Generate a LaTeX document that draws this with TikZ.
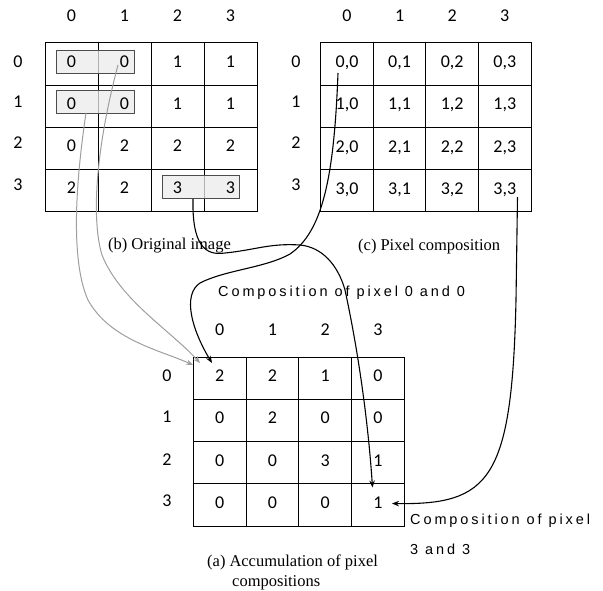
\documentclass[tikz,border=0pt]{standalone}
\usepackage{fontspec}
\setmainfont{Liberation Serif}
\newfontfamily\numfont{Carlito}
\newfontfamily\lsfont[LetterSpace=20]{Liberation Sans}
\usetikzlibrary{arrows.meta}
\begin{document}
\begin{tikzpicture}[x=1pt,y=-1pt,
  gridcell/.style={draw, line width=0.9pt, inner sep=0pt, minimum height=42.3pt},
  cellb/.style={gridcell, minimum width=53pt},
  cellc/.style={gridcell, minimum width=52.6pt},
  cella/.style={gridcell, minimum width=52.75pt, minimum height=42.2pt},
  num/.style={inner sep=0pt, text height=11.4pt, text depth=0pt, font={\numfont\fontsize{18}{21}\selectfont}},
  hl/.style={draw=black!70, line width=0.7pt, fill=black!8, fill opacity=0.75, inner sep=0pt, minimum width=78pt, minimum height=23pt},
  caption/.style={inner sep=0pt, anchor=base west, font={\fontsize{16.5}{19}\selectfont}},
  lbl/.style={inner sep=0pt, anchor=base west, font={\lsfont\fontsize{14.5}{17}\selectfont}},
  blk/.style={line width=1.1pt, -{Stealth[length=7pt,width=5.5pt]}},
  gry/.style={draw=black!38, line width=1pt, -{Stealth[length=7pt,width=5.5pt]}},
]
\useasboundingbox (0,0) rectangle (603,590);

% ---------- grid (b) ----------
\foreach \r in {0,...,3}{
  \foreach \c in {0,...,3}{
    \node[cellb] (b-\r-\c) at ({71.5+53*\c},{63.85+42.3*\r}) {};
  }
}
\node[hl] (hb0) at (95,61.5) {};
\node[hl] (hb1) at (95,101.5) {};
\node[hl, minimum width=77pt, minimum height=23.5pt] (hb3) at (200.5,186.75) {};
\foreach \v [count=\c from 0] in {0,0,1,1} \node[num] (bt-0-\c) at ({71.5+53*\c},61.7) {\v};
\foreach \v [count=\c from 0] in {0,0,1,1} \node[num] (bt-1-\c) at ({71.5+53*\c},103.5) {\v};
\foreach \v [count=\c from 0] in {0,2,2,2} \node[num] (bt-2-\c) at ({71.5+53*\c},145.8) {\v};
\foreach \v [count=\c from 0] in {2,2,3,3} \node[num] (bt-3-\c) at ({71.5+53*\c},188.1) {\v};
\foreach \c in {0,...,3} \node[num] (bh-\c) at ({71.5+53*\c},16) {\c};
\foreach \r/\y in {0/61.7,1/101.7,2/143,3/185} \node[num] (br-\r) at (18,\y) {\r};
\node[caption] (capb) at (108,249) {(b)\hspace{4pt}Original image};

% ---------- grid (c) ----------
\foreach \r in {0,...,3}{
  \foreach \c in {0,...,3}{
    \node[cellc] (c-\r-\c) at ({347+52.6*\c},{63.85+42.3*\r}) {};
    \node[num] (ct-\r-\c) at ({347+52.6*\c},{61.7+42.3*\r}) {\r,\c};
  }
}
\foreach \c in {0,...,3} \node[num] (ch-\c) at ({347+52.6*\c},16) {\c};
\foreach \r/\y in {0/61.7,1/101.7,2/143,3/185} \node[num] (cr-\r) at (296,\y) {\r};
\node[caption] (capc) at (358,250.5) {(c)\hspace{4pt}Pixel composition};

% ---------- grid (a) ----------
\foreach \r in {0,...,3}{
  \foreach \c in {0,...,3}{
    \node[cella] (a-\r-\c) at ({219.7+52.75*\c},{378.4+42.2*\r}) {};
  }
}
\foreach \v [count=\c from 0] in {2,2,1,0} \node[num] (at-0-\c) at ({219.7+52.75*\c},376.0) {\v};
\foreach \v [count=\c from 0] in {0,2,0,0} \node[num] (at-1-\c) at ({219.7+52.75*\c},418.2) {\v};
\foreach \v [count=\c from 0] in {0,0,3,1} \node[num] (at-2-\c) at ({219.7+52.75*\c},460.4) {\v};
\foreach \v [count=\c from 0] in {0,0,0,1} \node[num] (at-3-\c) at ({219.7+52.75*\c},502.6) {\v};
\foreach \c in {0,...,3} \node[num] (ah-\c) at ({219.7+52.75*\c},330) {\c};
\foreach \r/\y in {0/376,1/417,2/460,3/501} \node[num] (ar-\r) at (167,\y) {\r};
\node[caption] (capa1) at (207,566) {(a)\hspace{4pt}Accumulation of pixel};
\node[caption] (capa2) at (232,586.5) {compositions};

% ---------- labels ----------
\node[lbl] (l00) at (218,296) {Composition of pixel 0 and 0};
\node[lbl] (l33a) at (410,524) {Composition of pixel};
\node[lbl] (l33b) at (410,554) {3 and 3};

% ---------- connector end points ----------
\coordinate (sA) at (118,65);
\coordinate (sB) at (86,113);
\coordinate (s1) at (193,199);
\coordinate (sC) at (338,73);
\coordinate (sD) at (517.5,197);
\coordinate (eA) at (200,363);
\coordinate (eB) at (193,365);
\coordinate (e1) at (372.5,487.5);
\coordinate (e2) at (212,363);
\coordinate (e3) at (392,503.5);

% ---------- connectors ----------
\draw[gry] (sA) .. controls (98,140) and (90,215) .. (102,255)
               .. controls (120,300) and (170,330) .. (eA);
\draw[gry] (sB) .. controls (76,180) and (70,260) .. (88,300)
               .. controls (110,340) and (160,350) .. (eB);
\draw[blk] (s1) .. controls (192,245) and (205,256) .. (225,253)
               .. controls (255,250) and (270,243) .. (300,245)
               .. controls (322,247) and (338,265) .. (345,290)
               .. controls (358,350) and (368,420) .. (e1);
\draw[blk] (sC) .. controls (334,180) and (322,232) .. (290,254)
               .. controls (265,268) and (225,270) .. (200,283)
               .. controls (182,295) and (192,330) .. (e2);
\draw[blk] (sD) -- (516,300) .. controls (512,480) and (490,505) .. (e3);
\end{tikzpicture}
\end{document}
